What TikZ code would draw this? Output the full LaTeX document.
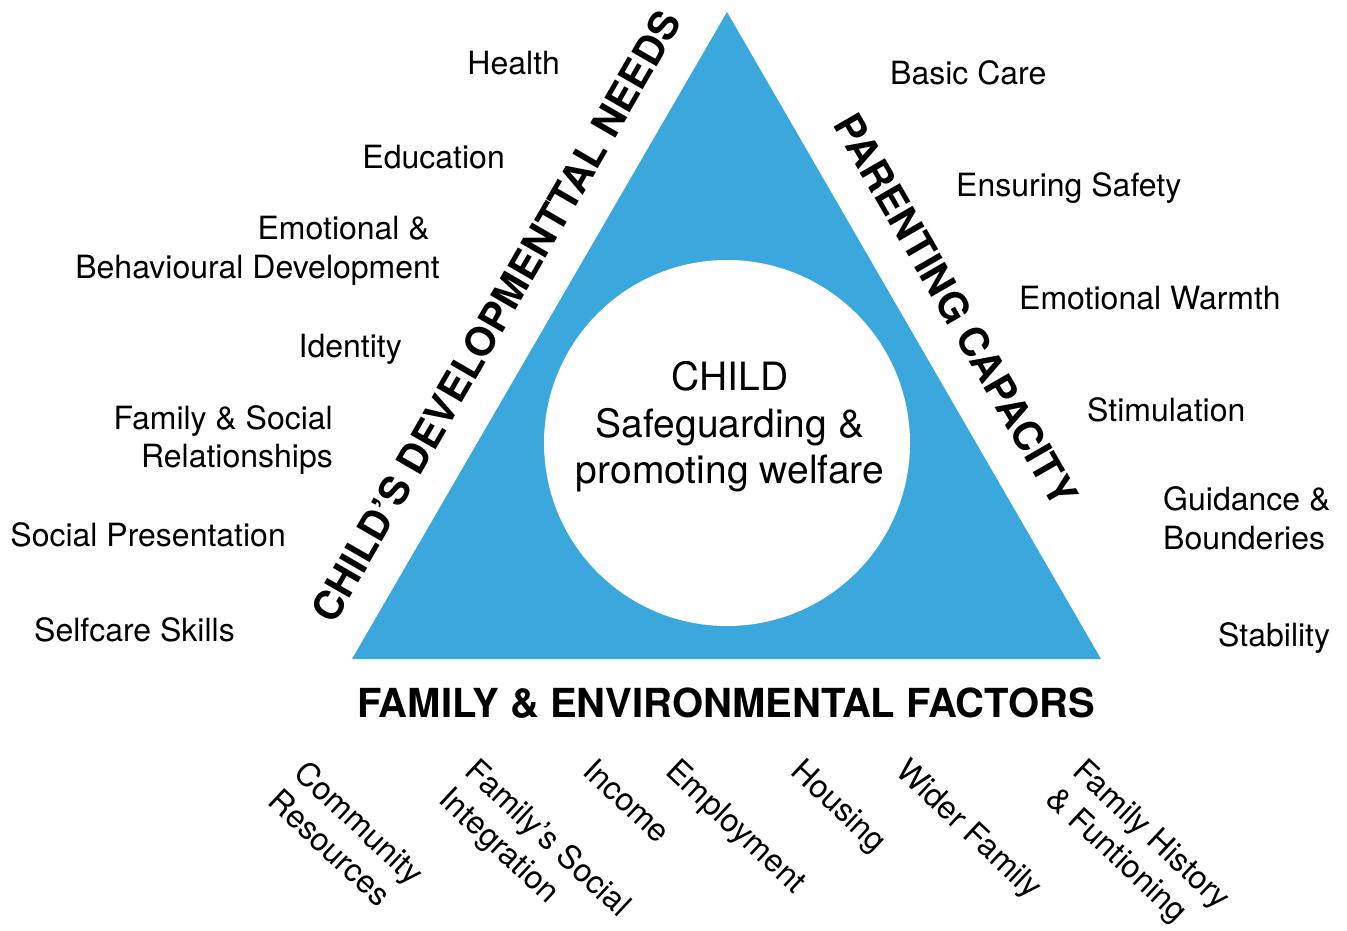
\documentclass[tikz,border=0pt]{standalone}
\usepackage{fontspec}
\setmainfont{TeX Gyre Heros}
\usepackage{xcolor}
\usetikzlibrary{positioning}
\definecolor{triblue}{HTML}{3AA8DC}

\begin{document}
\begin{tikzpicture}[x=1pt, y=-1pt]

                \def\r{183}
                \def\tilt{-43}

                % Styles for the factor texts and the three side titles
                \tikzset{
                    factor/.style={inner sep=0pt,
                        font=\fontsize{32}{38.5}\selectfont},
                    sidetitle/.style={inner sep=0pt,
                        font=\fontsize{40}{48}\selectfont\bfseries},
                    lowfactor/.style={factor, rotate=\tilt,
                        anchor=north west, align=left}
                }

                \useasboundingbox (0, 0) rectangle (1347, 931);

                % Corners of the triangle
                \coordinate (apex) at (727, 12);
                \coordinate (bl) at (352, 659);
                \coordinate (br) at (1101, 659);

                \fill[triblue] (apex) -- (bl) -- (br) -- cycle;

                \node (ring) [circle, fill=white, inner sep=0pt,
                    minimum size=2*\r pt] at (727, 443) {};
                \node (child) [align=center, inner sep=0pt,
                    font=\fontsize{39}{46.5}\selectfont] at (730, 427)
                {CHILD\\Safeguarding \&\\promoting welfare};

                % Side titles
                \node (needs) [sidetitle, rotate=60] at (496, 316)
                {CHILD'S DEVELOPMENTTAL NEEDS};
                \node (capacity) [sidetitle, rotate=-60] at (956, 310)
                {PARENTING CAPACITY};
                \node (family) [sidetitle] at (726, 703)
                {FAMILY \& ENVIRONMENTAL FACTORS};

                % Child's developmental needs
                \begin{scope}[every node/.style={factor, anchor=base east}]
                    \node (health) at (560, 74.5) {Health};
                    \node (education) at (505, 168.5) {Education};
                    \node (emotional) [anchor=east, align=right]
                    at (440, 251) {Emotional \&\kern10pt\\Behavioural Development};
                    \node (identity) at (402, 357.5) {Identity};
                    \node (relations) [anchor=east, align=right]
                    at (333, 440) {Family \& Social\\Relationships};
                    \node (presentation) at (286, 546.5) {Social Presentation};
                    \node (selfcare) at (235, 641.5) {Selfcare Skills};
                \end{scope}

                % Parenting capacity
                \begin{scope}[every node/.style={factor, anchor=base west}]
                    \node (basic) at (890, 84.5) {Basic Care};
                    \node (safety) at (956, 196.5) {Ensuring Safety};
                    \node (warmth) at (1019, 309.5) {Emotional Warmth};
                    \node (stimulation) at (1087, 421.5) {Stimulation};
                    \node (guidance) [anchor=west, align=left]
                    at (1163, 518.5) {Guidance \&\\Bounderies};
                    \node (stability) at (1218, 646.5) {Stability};
                \end{scope}

                % Family and environmental factors
                \node (community) [lowfactor] at (309, 758)
                {Community\\Resources};
                \node (integration) [lowfactor] at (480, 756)
                {Family's Social\\Integration};
                \node (income) [lowfactor] at (597, 756) {Income};
                \node (employment) [lowfactor] at (680, 756) {Employment};
                \node (housing) [lowfactor] at (805, 756) {Housing};
                \node (wider) [lowfactor] at (910, 756) {Wider Family};
                \node (history) [lowfactor] at (1087, 756)
                {Family History\\\& Funtioning};

\end{tikzpicture}
\end{document}
